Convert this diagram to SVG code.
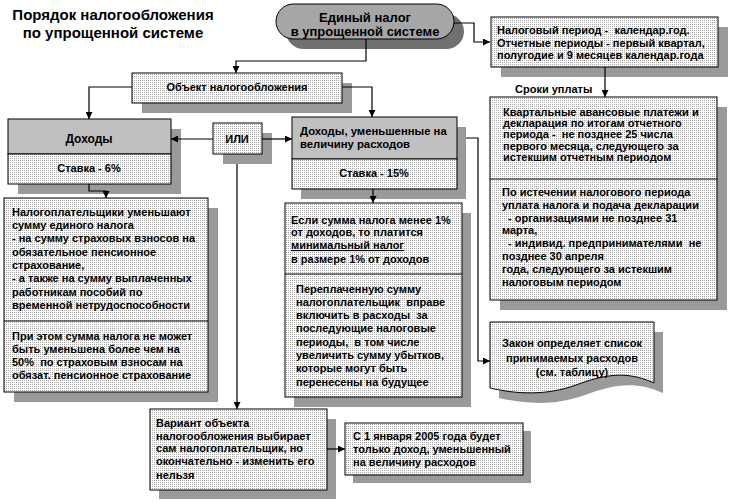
<svg xmlns="http://www.w3.org/2000/svg" width="729" height="502" viewBox="0 0 729 502">
<defs>
<pattern id="dots" width="2" height="2" patternUnits="userSpaceOnUse"><rect width="2" height="2" fill="#fff"/><rect width="1" height="1" fill="#a8a8a8"/></pattern>
<marker id="arr" markerUnits="userSpaceOnUse" markerWidth="8" markerHeight="7" refX="7" refY="3.5" orient="auto"><path d="M0,0 L7,3.5 L0,7 z" fill="#000"/></marker>
</defs>
<style>
text{font-family:"Liberation Sans",Arial,sans-serif;font-weight:bold;font-size:11px;fill:#000;white-space:pre}
.t{font-size:15px}
.p{font-size:13px}
.c{text-anchor:middle}
.box{fill:url(#dots);stroke:#000;stroke-width:1}
.hdr{fill:#c0c0c0;stroke:#000;stroke-width:1}
.sh{fill:#9a9a9a}
.ln{fill:none;stroke:#000;stroke-width:1}
.con{fill:none;stroke:#000;stroke-width:1.2;marker-end:url(#arr)}
</style>
<rect width="729" height="502" fill="#fff"/>
<g id="title">
<text class="t c" x="113" y="20">Порядок налогообложения</text>
<text class="t c" x="113" y="38">по упрощенной системе</text>
</g>
<g id="n-unified">
<rect x="286" y="14" width="178" height="35" rx="17.5" fill="#707070"/>
<rect x="276" y="4" width="178" height="35" rx="17.5" fill="#a6a6a6" stroke="#000"/>
<text class="p c" x="365" y="21.5">Единый налог</text>
<text class="p c" x="365" y="36">в упрощенной системе</text>
</g>
<g id="n-period">
<rect class="sh" x="501" y="27" width="227" height="50"/>
<rect class="box" x="491" y="17" width="227" height="50"/>
<text x="497" y="34">Налоговый период -  календар.год.</text>
<text x="497" y="47">Отчетные периоды - первый квартал,</text>
<text x="497" y="59">полугодие и 9 месяцев календар.года</text>
</g>
<g id="l-terms">
<text x="515" y="93">Сроки уплаты</text>
</g>
<g id="n-terms">
<rect class="sh" x="500" y="107" width="227" height="203"/>
<rect class="box" x="490" y="97" width="227" height="203"/>
<line class="ln" x1="490" y1="179" x2="717" y2="179"/>
<text x="503" y="116">Квартальные авансовые платежи и</text>
<text x="503" y="127">декларация по итогам отчетного</text>
<text x="503" y="138">периода -  не позднее 25 числа</text>
<text x="503" y="150">первого месяца, следующего за</text>
<text x="503" y="161">истекшим отчетным периодом</text>
<text x="502" y="196">По истечении налогового периода</text>
<text x="502" y="209">уплата налога и подача декларации</text>
<text x="502" y="222">  - организациями не позднее 31</text>
<text x="502" y="234">марта,</text>
<text x="502" y="247">  - индивид. предпринимателями  не</text>
<text x="502" y="260">позднее 30 апреля</text>
<text x="502" y="273">года, следующего за истекшим</text>
<text x="502" y="286">налоговым периодом</text>
</g>
<g id="n-object">
<rect class="sh" x="142" y="83" width="210" height="30"/>
<rect class="box" x="132" y="73" width="210" height="30"/>
<text class="c" x="237" y="91">Объект налогообложения</text>
</g>
<g id="n-income">
<rect class="sh" x="18" y="129" width="163" height="65"/>
<rect class="hdr" x="8" y="119" width="163" height="35"/>
<rect class="box" x="8" y="154" width="163" height="30"/>
<text class="c" x="89" y="143" style="font-size:12px">Доходы</text>
<text class="c" x="89" y="172">Ставка - 6%</text>
</g>
<g id="n-or">
<rect class="sh" x="223" y="133" width="49" height="31"/>
<rect class="box" x="213" y="123" width="49" height="31"/>
<text class="c" x="237" y="143">ИЛИ</text>
</g>
<g id="n-income-exp">
<rect class="sh" x="301" y="127" width="165" height="72"/>
<rect class="hdr" x="292" y="117" width="165" height="42"/>
<rect class="box" x="292" y="159" width="165" height="30"/>
<text x="300" y="135" style="font-size:11.3px">Доходы, уменьшенные на</text>
<text x="300" y="148" style="font-size:11.3px">величину расходов</text>
<text class="c" x="374" y="177">Ставка - 15%</text>
</g>
<g id="n-min">
<rect class="sh" x="294" y="213" width="177" height="194"/>
<rect class="box" x="285" y="203" width="177" height="194"/>
<line class="ln" x1="285" y1="274" x2="462" y2="274"/>
<text x="291" y="224">Если сумма налога менее 1%</text>
<text x="291" y="236">от доходов, то платится</text>
<text x="291" y="249" text-decoration="underline">минимальный налог</text>
<text x="291" y="263">в размере 1% от доходов</text>
<text x="296" y="293">Переплаченную сумму</text>
<text x="296" y="306">налогоплательщик  вправе</text>
<text x="296" y="319">включить в расходы  за</text>
<text x="296" y="332">последующие налоговые</text>
<text x="296" y="346">периоды,  в том числе</text>
<text x="296" y="359">увеличить сумму убытков,</text>
<text x="296" y="372">которые могут быть</text>
<text x="296" y="386">перенесены на будущее</text>
</g>
<g id="n-reduce">
<rect class="sh" x="14" y="208" width="204" height="194"/>
<rect class="box" x="4" y="198" width="204" height="194"/>
<line class="ln" x1="4" y1="321" x2="208" y2="321"/>
<text x="12" y="216">Налогоплательщики уменьшают</text>
<text x="12" y="229">сумму единого налога</text>
<text x="12" y="242">- на сумму страховых взносов на</text>
<text x="12" y="256">обязательное пенсионное</text>
<text x="12" y="269">страхование,</text>
<text x="12" y="282">- а также на сумму выплаченных</text>
<text x="12" y="296">работникам пособий по</text>
<text x="12" y="309">временной нетрудоспособности</text>
<text x="12" y="340">При этом сумма налога не может</text>
<text x="12" y="353">быть уменьшена более чем на</text>
<text x="12" y="366">50%  по страховым взносам на</text>
<text x="12" y="379">обязат. пенсионное страхование</text>
</g>
<g id="n-law">
<path class="sh" d="M499,332 H663 V393 C635,380 612,385 585,395 C555,406 525,404 499,398 Z"/>
<path class="box" d="M490,322 H654 V383 C626,370 603,375 576,385 C546,396 516,394 490,388 Z"/>
<text class="c" x="572" y="347">Закон определяет список</text>
<text class="c" x="572" y="362">принимаемых расходов</text>
<text class="c" x="572" y="376">(см. таблицу)</text>
</g>
<g id="n-choice">
<rect class="sh" x="159" y="419" width="177" height="80"/>
<rect class="box" x="150" y="409" width="177" height="81"/>
<text x="156" y="427">Вариант объекта</text>
<text x="156" y="440">налогообложения выбирает</text>
<text x="156" y="452">сам налогоплательщик, но</text>
<text x="156" y="465">окончательно - изменить его</text>
<text x="156" y="479">нельзя</text>
</g>
<g id="n-2005">
<rect class="sh" x="353" y="431" width="178" height="52"/>
<rect class="box" x="345" y="423" width="178" height="52"/>
<text x="353" y="440">С 1 января 2005 года будет</text>
<text x="353" y="453">только доход, уменьшенный</text>
<text x="353" y="466">на величину расходов</text>
</g>
<g id="connectors">
<path class="con" d="M454,23 H474 V42 H490"/>
<path class="con" d="M366,39 V61 H236 V73"/>
<path class="con" d="M605,67 V97"/>
<path class="con" d="M132,87 H89 V119"/>
<path class="con" d="M342,87 H372 V117"/>
<path class="con" d="M213,139 H171"/>
<path class="con" d="M262,139 H292"/>
<path class="con" d="M237,164 V409"/>
<path class="con" d="M89,184 V191 H106 V198"/>
<path class="con" d="M373,189 V203"/>
<path class="con" d="M466,138 H478 V361 H490"/>
<path class="con" d="M327,449 H345"/>
</g>
</svg>
